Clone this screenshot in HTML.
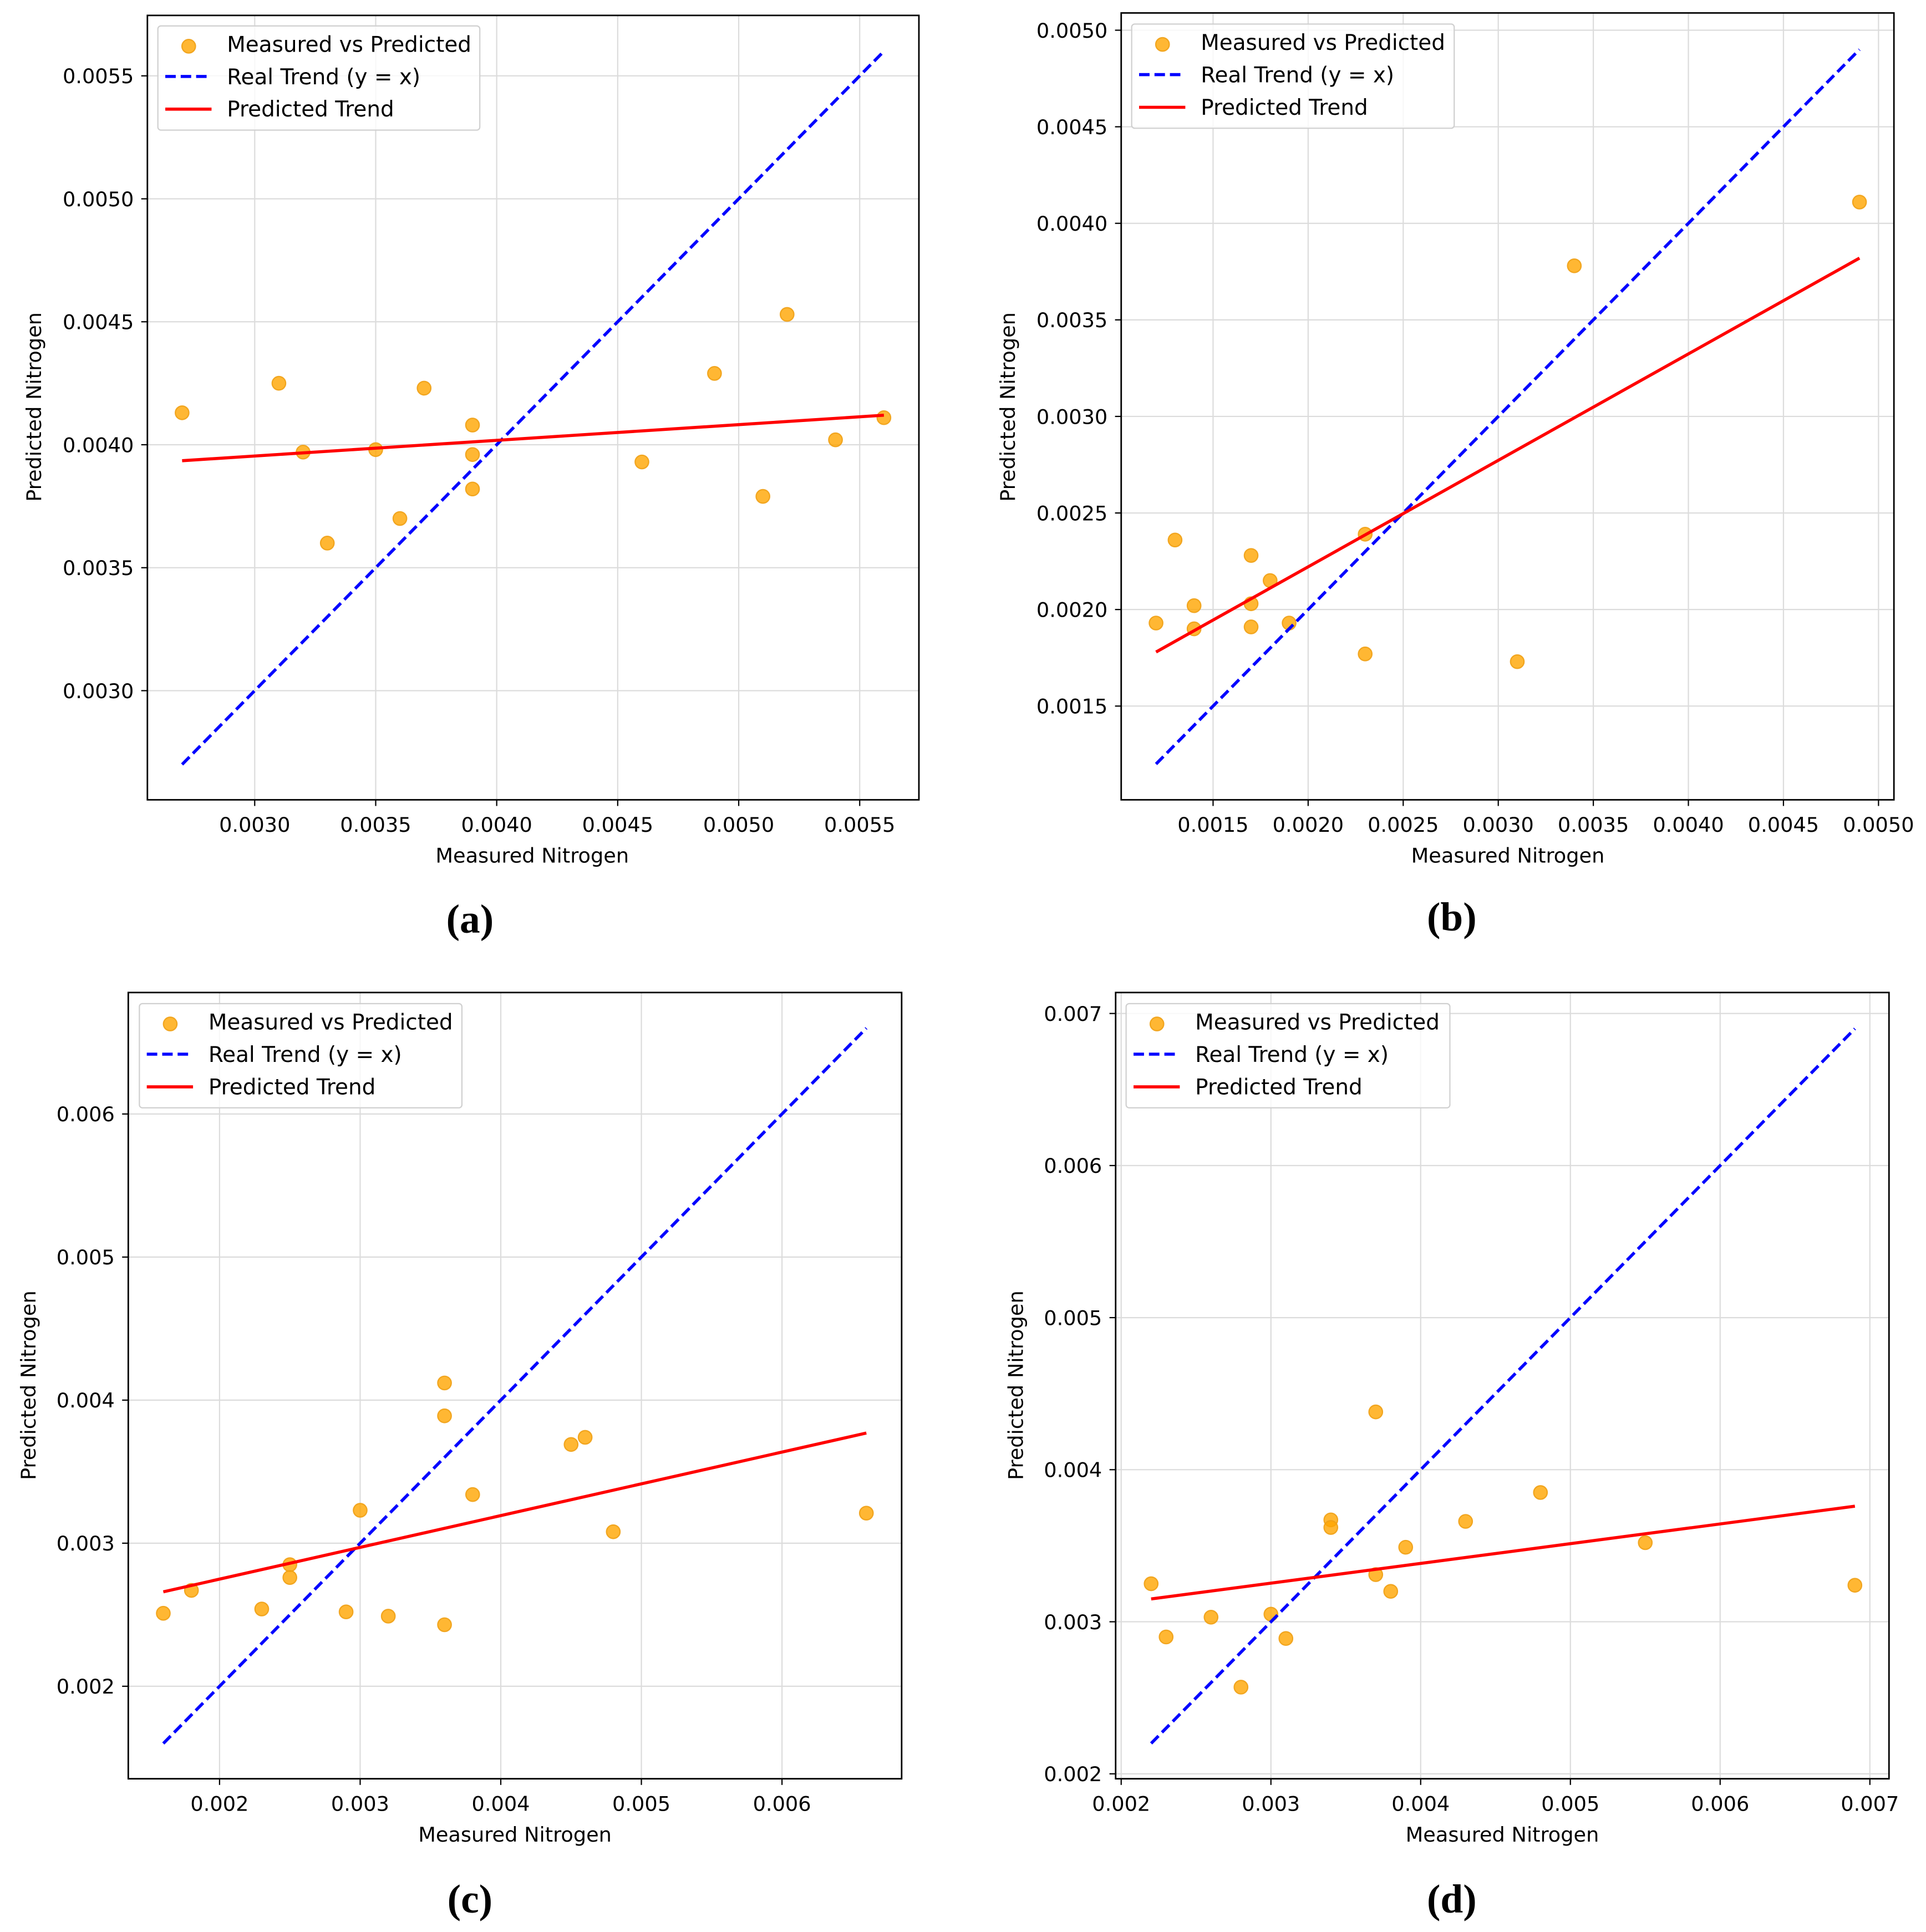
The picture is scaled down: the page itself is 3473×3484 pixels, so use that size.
<!DOCTYPE html>
<html><head><meta charset="utf-8"><style>
html,body{margin:0;padding:0;background:#fff}
svg{display:block}
text{font-family:"DejaVu Sans","Liberation Sans",sans-serif;fill:#000}
.cap{font-family:"Liberation Serif",serif;font-weight:bold}
</style></head><body>
<svg id="fig" width="3473" height="3484" viewBox="0 0 3123 3133" preserveAspectRatio="none" xmlns="http://www.w3.org/2000/svg"></svg>
<script>
// Panel (a)
const aX=[0.0027,0.0031,0.0032,0.0033,0.0035,0.0036,0.0037,0.0039,0.0039,0.0039,0.0046,0.0049,0.0051,0.0052,0.0054,0.0056];
const aY=[0.00413,0.00425,0.00397,0.00360,0.00398,0.00370,0.00423,0.00408,0.00396,0.00382,0.00393,0.00429,0.00379,0.00453,0.00402,0.00411];
const aFit=[0.003935,0.00412];
const aXT=["0.0030","0.0035","0.0040","0.0045","0.0050","0.0055"];
const aYT=["0.0030","0.0035","0.0040","0.0045","0.0050","0.0055"];
// Panel (b)
const bX=[0.0012,0.0013,0.0014,0.0014,0.0017,0.0017,0.0017,0.0018,0.0019,0.0023,0.0023,0.0031,0.0034,0.0049];
const bY=[0.00193,0.00236,0.00202,0.00190,0.00228,0.00203,0.00191,0.00215,0.00193,0.00239,0.00177,0.00173,0.00378,0.00411];
const bFit=[0.00178,0.00382];
const bXT=["0.0015","0.0020","0.0025","0.0030","0.0035","0.0040","0.0045","0.0050"];
const bYT=["0.0015","0.0020","0.0025","0.0030","0.0035","0.0040","0.0045","0.0050"];
// Panel (c)
const cX=[0.0016,0.0018,0.0023,0.0025,0.0025,0.0029,0.0030,0.0032,0.0036,0.0036,0.0036,0.0038,0.0045,0.0046,0.0048,0.0066];
const cY=[0.00251,0.00267,0.00254,0.00285,0.00276,0.00252,0.00323,0.00249,0.00412,0.00389,0.00243,0.00334,0.00369,0.00374,0.00308,0.00321];
const cFit=[0.00266,0.00377];
const cXT=["0.002","0.003","0.004","0.005","0.006"];
const cYT=["0.002","0.003","0.004","0.005","0.006"];
// Panel (d)
const dX=[0.0022,0.0023,0.0026,0.0028,0.0030,0.0031,0.0034,0.0034,0.0037,0.0037,0.0038,0.0039,0.0043,0.0048,0.0055,0.0069];
const dY=[0.00325,0.00290,0.00303,0.00257,0.00305,0.00289,0.00367,0.00362,0.00438,0.00331,0.00320,0.00349,0.00366,0.00385,0.00352,0.00324];
const dFit=[0.00315,0.00376];
const dXT=["0.002","0.003","0.004","0.005","0.006","0.007"];
const dYT=["0.002","0.003","0.004","0.005","0.006","0.007"];

const NS="http://www.w3.org/2000/svg";
const fig=document.getElementById('fig');
function mk(tag,attrs,parent){const e=document.createElementNS(NS,tag);for(const k in attrs)e.setAttribute(k,attrs[k]);parent.appendChild(e);return e;}

const panels=[
 {id:'a',ox:0,oy:0,xs:aX,ys:aY,fit:aFit,xt:aXT,yt:aYT,L:239,R:1490,T:25,B:1297,x0:0.003,px0:413,x1:0.0055,px1:1394,y0:0.0055,py0:123,y1:0.003,py1:1120,leg:[256,42,522],ylab:[57,660],xlab:[863,1387],cap:[762,1490]},
 {id:'b',ox:1561,oy:0,xs:bX,ys:bY,fit:bFit,xt:bXT,yt:bYT,L:257,R:1510,T:21,B:1297,x0:0.0015,px0:406,x1:0.005,px1:1485,y0:0.005,py0:49,y1:0.0015,py1:1145,leg:[274,39,523],ylab:[75,660],xlab:[884,1387],cap:[793,1487]},
 {id:'c',ox:0,oy:1566.5,xs:cX,ys:cY,fit:cFit,xt:cXT,yt:cYT,L:208,R:1462,T:43,B:1318,x0:0.002,px0:356,x1:0.006,px1:1268,y0:0.006,py0:240,y1:0.002,py1:1168,leg:[226,61,523],ylab:[48,680],xlab:[835,1408],cap:[762,1513]},
 {id:'d',ox:1561,oy:1566.5,xs:dX,ys:dY,fit:dFit,xt:dXT,yt:dYT,L:248,R:1502,T:43,B:1318,x0:0.002,px0:257,x1:0.007,px1:1471,y0:0.007,py0:77,y1:0.002,py1:1310,leg:[265,61,525],ylab:[88,680],xlab:[875,1408],cap:[793,1513]}
];

panels.forEach(p=>{
 const sx=v=>p.px0+(v-p.x0)*(p.px1-p.px0)/(p.x1-p.x0);
 const sy=v=>p.py0+(v-p.y0)*(p.py1-p.py0)/(p.y1-p.y0);
 const g=mk('g',{transform:`translate(${p.ox},${p.oy})`},fig);
 
 
 p.xt.forEach(t=>{const x=sx(parseFloat(t));
  const gl=mk('line',{x1:x,x2:x,y1:p.T,y2:p.B,stroke:'#dcdcdc','stroke-width':2},g);
  
  
  mk('line',{x1:x,x2:x,y1:p.B,y2:p.B+10,stroke:'#000','stroke-width':2},g);
  const tx=mk('text',{x:x,y:p.B+52,'font-size':33,'text-anchor':'middle'},g);tx.textContent=t;
  
  
 });
 p.yt.forEach(t=>{const y=sy(parseFloat(t));
  const gl=mk('line',{x1:p.L,x2:p.R,y1:y,y2:y,stroke:'#dcdcdc','stroke-width':2},g);
  
  
  mk('line',{x1:p.L-10,x2:p.L,y1:y,y2:y,stroke:'#000','stroke-width':2},g);
  const tx=mk('text',{x:p.L-22,y:y+12,'font-size':33,'text-anchor':'end'},g);tx.textContent=t;
  
  
 });
 p.xs.forEach((v,i)=>{
  const c=mk('circle',{cx:sx(v),cy:sy(p.ys[i]),r:11,fill:'rgba(255,165,0,0.8)',stroke:'rgba(240,160,20,0.9)','stroke-width':2},g);
  
  
 });
 const xa=p.xs[0],xb=p.xs[p.xs.length-1];
 const dl=mk('line',{x1:sx(xa),y1:sy(xa),x2:sx(xb),y2:sy(xb),stroke:'#0000ff','stroke-width':5,'stroke-dasharray':'17 8'},g);
 
 
 const fl=mk('line',{x1:sx(xa),y1:sy(p.fit[0]),x2:sx(xb),y2:sy(p.fit[1]),stroke:'#ff0000','stroke-width':5},g);
 
 
 const fr=mk('rect',{x:p.L,y:p.T,width:p.R-p.L,height:p.B-p.T,fill:'none',stroke:'#000','stroke-width':2.5},g);
 
 
 const [lx,ly,lw]=p.leg;
 const lg=mk('g',{},g);
 
 
 mk('rect',{x:lx,y:ly,width:lw,height:169,rx:5,fill:'rgba(255,255,255,0.8)',stroke:'#d0d0d0','stroke-width':2},lg);
 mk('circle',{cx:lx+50,cy:ly+33,r:11,fill:'rgba(255,165,0,0.8)',stroke:'rgba(240,160,20,0.9)','stroke-width':2},lg);
 mk('line',{x1:lx+12,x2:lx+87,y1:ly+82,y2:ly+82,stroke:'#0000ff','stroke-width':5,'stroke-dasharray':'17 8'},lg);
 mk('line',{x1:lx+12,x2:lx+87,y1:ly+135,y2:ly+135,stroke:'#ff0000','stroke-width':5},lg);
 ['Measured vs Predicted','Real Trend (y = x)','Predicted Trend'].forEach((s,i)=>{
  const t=mk('text',{x:lx+112,y:ly+42+i*52.5,'font-size':35},lg);t.textContent=s;
  
  
 });
 const yl=mk('text',{x:p.ylab[0],y:p.ylab[1],'font-size':33,'text-anchor':'middle',transform:`rotate(-90 ${p.ylab[0]} ${p.ylab[1]})`,'dominant-baseline':'middle'},g);
 yl.textContent='Predicted Nitrogen';
 
 
 const xl=mk('text',{x:p.xlab[0],y:p.xlab[1]+12,'font-size':33,'text-anchor':'middle'},g);
 xl.textContent='Measured Nitrogen';
 
 
 const cp=mk('text',{x:p.cap[0],y:p.cap[1]+22,'font-size':66,'text-anchor':'middle',class:'cap'},g);
 cp.textContent='('+p.id+')';
 
 
});
</script>
</body></html>
